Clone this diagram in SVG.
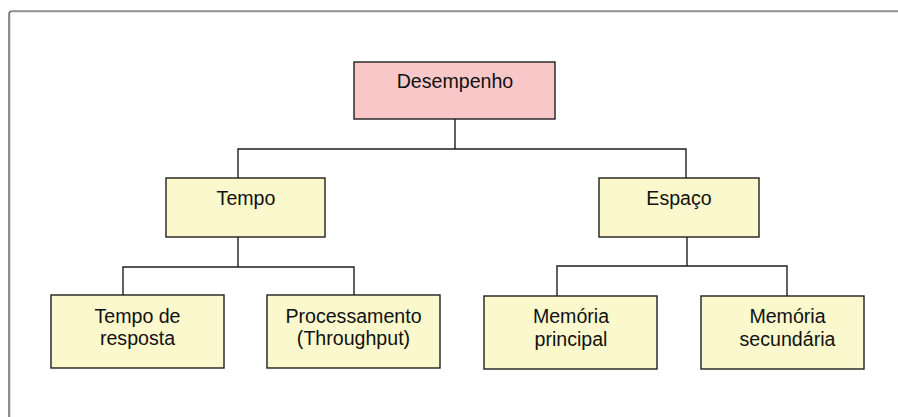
<svg xmlns="http://www.w3.org/2000/svg" width="898" height="417" viewBox="0 0 898 417">
  <style>
    .frame { fill: none; stroke: #4a4a4a; stroke-width: 1.2; }
    .frame-shade { fill: none; stroke: #c8c8c8; stroke-width: 1; }
    .box { stroke: #1e1e1e; stroke-width: 1.4; }
    .root { fill: #f8c8c8; }
    .leaf { fill: #faf8cc; }
    .lbl { font-family: "Liberation Sans", Arial, sans-serif; font-size: 19.6px; fill: #111; text-anchor: middle; }
    .wire { fill: none; stroke: #1e1e1e; stroke-width: 1.4; }
  </style>

  <rect width="898" height="417" fill="#ffffff"/>

  <!-- outer panel frame, open to the right and bottom -->
  <path class="frame-shade" d="M10,418 V14 Q10,12 12,12 H899"/>
  <path class="frame" d="M9,418 V14 Q9,11 12,11 H899"/>

  <!-- connectors -->
  <g id="connectors">
    <path class="wire" d="M455,119 V149 M238,178 V149 H686 V178"/>
    <path class="wire" d="M238,237 V267 M123,296 V267 H354 V296"/>
    <path class="wire" d="M687,237 V266 M557,296 V266 H787 V296"/>
  </g>

  <g id="desempenho">
    <rect class="box root" x="354" y="62" width="201" height="57"/>
    <text class="lbl" x="455" y="88">Desempenho</text>
  </g>

  <g id="tempo">
    <rect class="box leaf" x="166" y="178" width="159" height="59"/>
    <text class="lbl" x="246" y="205">Tempo</text>
  </g>

  <g id="espaco">
    <rect class="box leaf" x="599" y="178" width="160" height="59"/>
    <text class="lbl" x="679" y="205">Espaço</text>
  </g>

  <g id="tempo-resposta">
    <rect class="box leaf" x="51" y="295" width="173" height="73"/>
    <text class="lbl" x="137.5" y="323">Tempo de</text>
    <text class="lbl" x="137.5" y="345">resposta</text>
  </g>

  <g id="processamento">
    <rect class="box leaf" x="267" y="295" width="173" height="73"/>
    <text class="lbl" x="353.5" y="323">Processamento</text>
    <text class="lbl" x="353.5" y="345">(Throughput)</text>
  </g>

  <g id="memoria-principal">
    <rect class="box leaf" x="484" y="296" width="173" height="73"/>
    <text class="lbl" x="571" y="323">Memória</text>
    <text class="lbl" x="571" y="346">principal</text>
  </g>

  <g id="memoria-secundaria">
    <rect class="box leaf" x="701" y="296" width="163" height="73"/>
    <text class="lbl" x="787.5" y="323">Memória</text>
    <text class="lbl" x="787.5" y="346">secundária</text>
  </g>
</svg>
